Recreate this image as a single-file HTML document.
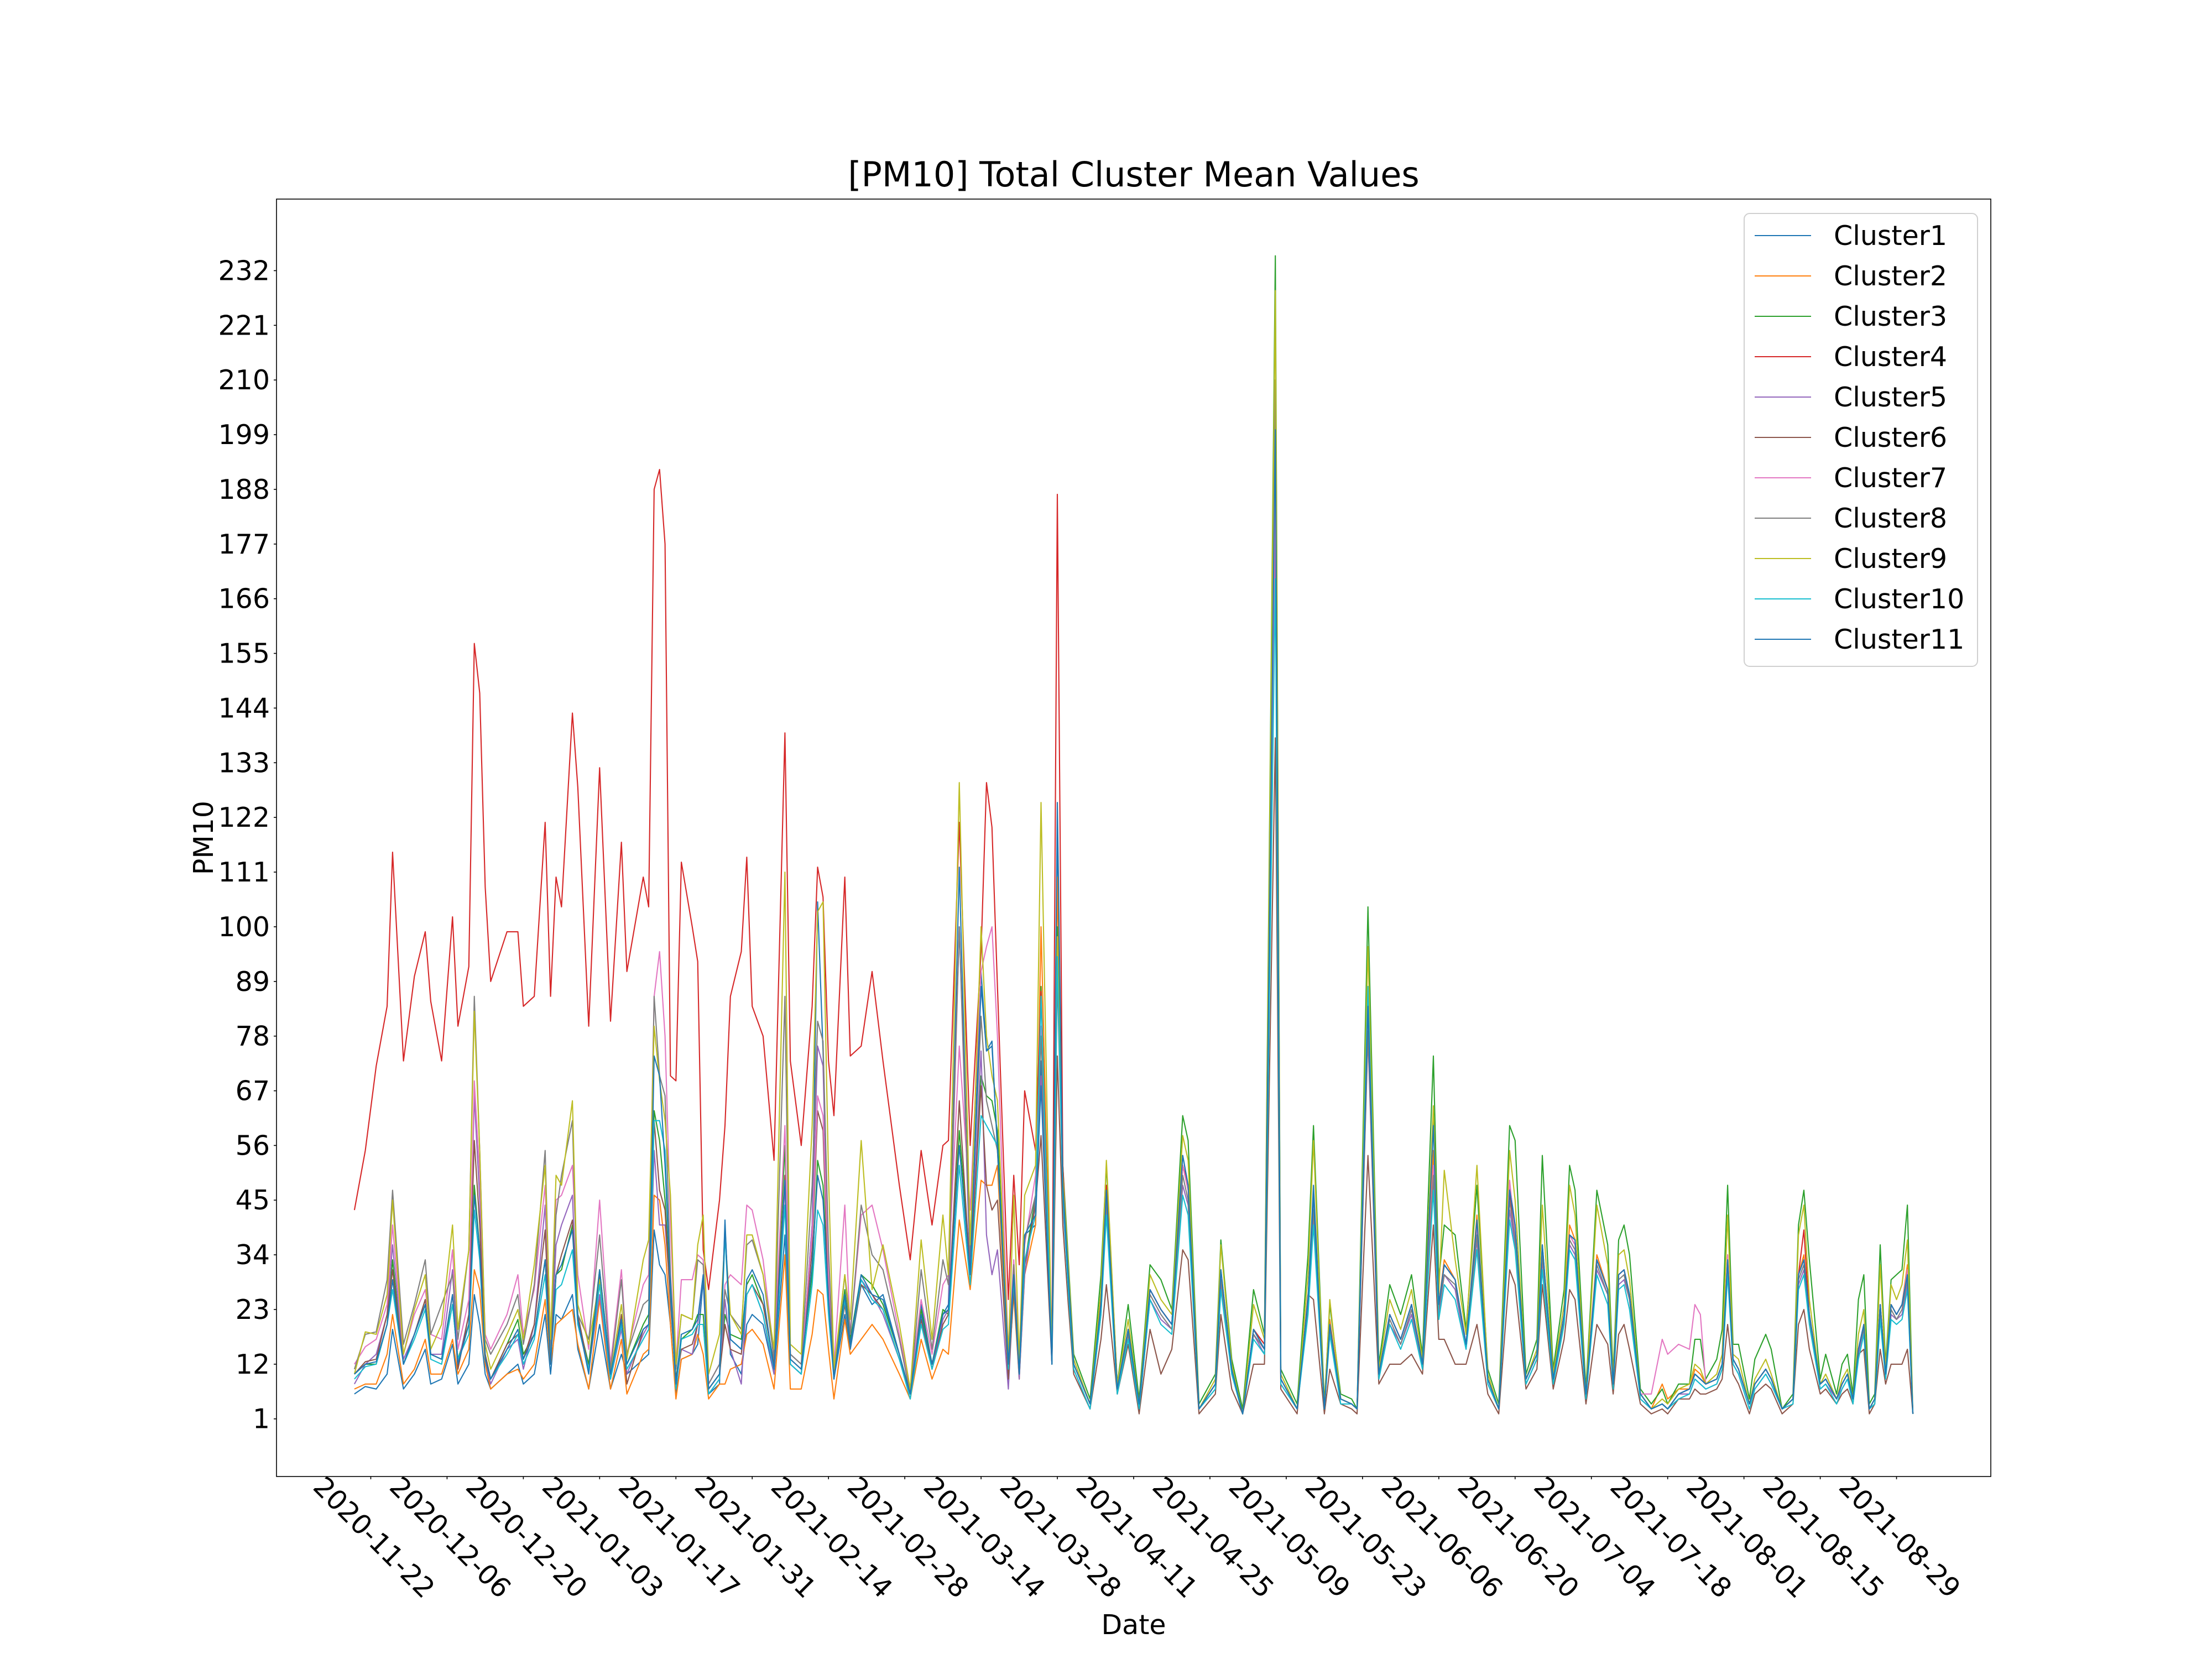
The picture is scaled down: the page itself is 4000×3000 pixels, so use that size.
<!DOCTYPE html>
<html>
<head>
<meta charset="utf-8">
<style>
  html, body { margin: 0; padding: 0; background: #fff; }
  svg { display: block; }
  text { font-family: "DejaVu Sans", "Liberation Sans", sans-serif; fill: #000; }
</style>
</head>
<body>
<svg id="chart" xmlns="http://www.w3.org/2000/svg" width="4000" height="3000" viewBox="0 0 4000 3000">
  <rect x="0" y="0" width="4000" height="3000" fill="#fff"/>
  <text x="2050" y="337" text-anchor="middle" font-size="62">[PM10] Total Cluster Mean Values</text>
  <g id="plot"></g>
  <g id="yaxis"></g>
  <g id="xaxis"></g>
  <rect x="500" y="360" width="3100" height="2310" fill="none" stroke="#000" stroke-width="1.6"/>
  <text x="0" y="0" transform="translate(385,1515) rotate(-90)" text-anchor="middle" font-size="49">PM10</text>
  <text x="2050" y="2955" text-anchor="middle" font-size="49">Date</text>
  <g id="legend">
    <rect x="3154" y="386" width="422" height="819" rx="10" ry="10" fill="#fff" fill-opacity="0.8" stroke="#d0d0d0" stroke-width="2"/>
  </g>
</svg>
<script>
const startDate = "2020-11-19";
const days = [0,2,4,6,7,9,11,13,14,16,18,19,21,22,23,24,25,28,30,31,33,35,36,37,38,40,41,43,45,47,49,50,53,54,55,56,57,58,59,60,62,63,64,65,67,68,69,71,72,73,75,77,79,80,82,84,85,86,87,88,90,91,93,95,97,100,102,104,106,108,109,111,113,115,116,117,118,120,121,122,123,125,126,128,129,130,
131,132,135,137,138,140,142,144,146,148,150,152,153,155,158,159,161,163,165,167,169,170,173,175,176,178,179,181,183,184,186,188,190,192,194,196,198,199,200,202,204,206,208,210,212,213,215,217,218,220,222,223,224,226,228,230,231,232,233,234,236,238,240,241,243,245,246,247,248,250,251,252,253,254,256,257,259,260,262,264,265,266,267,269,270,272,273,274,275,276,277,278,279,280,281,282,283,284,285,286];

const cluster1 = [6,7.5,7,10,19,7,10,15,8,9,16,8,12,26,20,10,7,10,12,8,10,22,10,22,21,26,15,7,20,7,14,10,13,14,39,32,30,20,6,13,14,16,29,6,8,41,14,10,20,22,20,10,38,12,10,40,105,75,30,9,22,15,28,24,26,14,6,24,12,22,24,112,30,91,75,77,55,15,30,12,38,40,73,14,120,48,
30,12,4,24,46,7,19,4,27,23,20,54,48,3,8,31,11,2,19,15,200,9,3,25,48,3,20,5,4,3,85,10,22,17,24,12,62,24,32,29,16,40,9,3,48,40,9,14,36,9,22,38,37,6,33,27,8,30,31,26,6,3,4,3,6,7,10,9,8,9,12,33,13,11,4,8,11,9,3,5,30,33,22,8,9,5,8,10,5,15,20,3,5,24,10,24,22,24,30,2];
const cluster2 = [7,8,8,14,22,8,11,17,10,10,17,10,15,31,27,12,7,10,11,9,12,25,12,20,21,23,16,7,25,7,17,6,14,15,46,45,36,20,5,13,14,18,14,5,8,8,11,12,18,19,16,7,34,7,7,18,27,26,15,5,21,14,17,20,17,10,5,17,9,15,14,41,27,49,48,48,52,10,26,9,30,40,100,12,110,45,
31,12,4,25,48,7,19,4,27,23,20,52,47,3,8,30,11,2,19,16,195,9,3,25,44,3,21,5,4,3,82,10,22,17,24,12,55,24,33,29,16,42,9,3,46,39,9,14,35,9,22,40,37,6,34,27,8,30,31,26,6,3,8,5,7,7,11,10,8,9,12,34,13,11,4,8,11,9,3,5,30,34,22,8,9,5,8,10,5,15,20,3,5,24,10,24,22,24,32,2];
const cluster3 = [10,12,12,20,33,12,18,24,14,13,24,13,20,48,35,14,9,16,21,14,18,33,13,30,31,40,21,12,31,10,21,12,20,22,63,57,45,26,9,17,19,22,22,7,10,22,18,17,28,30,24,12,56,14,12,30,53,48,25,10,27,17,30,28,24,14,6,23,12,23,22,59,32,70,66,65,59,12,32,11,32,46,88,13,100,52,
33,14,5,30,52,8,24,5,32,29,23,62,57,4,10,37,13,3,27,18,235,11,4,34,60,4,24,6,5,3,104,12,28,22,30,14,74,29,40,38,19,48,11,4,60,57,10,17,54,11,27,52,47,7,47,36,10,37,40,34,7,4,7,4,8,8,17,17,9,13,19,48,16,16,5,13,18,15,3,6,40,47,33,9,14,6,12,14,6,25,30,4,6,36,12,29,30,31,44,2];
const cluster4 = [43,55,72,84,115,73,90,99,85,73,102,80,92,157,147,108,89,99,99,84,86,121,86,110,104,143,128,80,132,81,117,91,110,104,188,192,177,70,69,113,100,93,35,27,45,60,86,95,114,84,78,53,139,73,56,84,112,106,73,62,110,74,76,91,73,48,33,55,40,56,57,121,56,95,129,120,88,25,50,32,67,55,87,14,187,52,
30,12,4,25,48,7,19,4,27,23,20,52,48,3,8,30,11,2,19,16,205,9,3,25,44,3,20,5,4,3,84,10,22,17,24,12,52,24,32,29,16,40,9,3,46,38,9,14,35,9,22,38,36,6,33,27,8,30,31,26,6,3,4,3,6,7,10,9,8,9,12,33,13,11,4,8,11,9,3,5,30,39,22,8,9,5,8,10,5,15,20,3,5,24,10,24,22,24,30,2];
const cluster5 = [8,12,14,22,36,13,18,25,14,14,31,12,22,66,45,13,8,15,17,11,20,44,13,36,40,46,20,11,26,9,19,10,18,20,55,40,40,26,8,15,14,20,30,6,9,25,15,8,26,28,22,10,48,12,10,40,76,72,30,9,25,16,29,26,22,13,6,22,11,21,23,100,30,75,38,30,35,7,28,9,30,45,70,12,98,44,
28,11,3,22,44,6,18,3,25,21,19,48,44,3,7,28,10,2,18,14,180,8,3,23,42,3,19,5,4,3,78,9,20,16,22,11,48,22,30,27,15,37,8,3,43,36,8,13,33,8,21,36,34,5,31,26,7,28,29,25,5,3,4,3,6,6,9,8,7,8,11,31,12,10,3,7,10,8,3,5,28,31,21,7,8,5,7,9,5,14,19,3,5,22,9,22,21,22,28,2];
const cluster6 = [10,12.5,13,22,31,12,18,25,14,13,26,11,22,57,40,14,9,16,18,13,20,39,14,30,34,41,22,11,30,9,22,8,19,20,61,47,43,24,9,15,16,20,20,7,10,20,15,14,26,28,24,12,50,13,11,35,63,59,25,10,24,16,28,26,23,13,6,21,11,20,22,65,30,68,48,43,45,9,27,10,32,44,58,12,74,40,
24,10,3,17,28,6,16,2,19,10,15,35,33,2,6,22,7,2,12,12,138,7,2,26,25,2,11,4,3,2,54,8,12,12,14,10,40,17,17,12,12,20,6,2,31,28,7,11,28,7,17,27,25,4,20,16,6,18,20,15,4,2,3,2,5,5,7,6,6,7,9,20,10,8,2,6,8,7,2,4,20,23,15,6,7,4,6,7,4,14,15,2,4,15,8,12,12,12,15,2];
const cluster7 = [12,15.5,17,24,40,14,22,27,18,17,35,15,25,69,50,18,15,22,30,18,27,48,18,45,46,52,30,15,45,12,31,14,28,30,86,95,78,40,12,29,29,34,33,8,12,28,30,28,44,43,33,14,60,14,12,38,66,62,30,12,44,18,42,44,35,18,7,25,14,28,30,76,43,91,96,100,78,14,33,12,36,50,80,13,95,48,
29,12,4,24,46,7,19,4,27,23,20,52,47,3,8,30,11,2,19,15,190,9,3,25,44,3,20,5,4,3,80,10,22,17,24,12,52,24,32,29,16,40,9,3,49,38,9,14,35,9,22,38,36,6,33,27,8,30,31,26,6,6,17,14,16,15,24,22,8,9,12,34,13,11,4,8,11,9,3,5,30,33,22,8,9,5,8,10,5,15,20,3,5,24,10,24,22,24,31,2];
const cluster8 = [11,18,18.5,29,47,16,24,33,18,24,30,17,35,86,55,17,14,20,26,16,28,55,15,42,50,61,22,17,38,11,29,14,24,25,86,70,66,30,11,22,21,33,32,8,12,27,22,19,36,37,30,13,86,14,12,48,81,77,35,10,30,18,44,34,31,17,6,31,15,33,28,100,34,82,65,60,55,12,32,11,37,46,78,13,90,46,
28,12,4,23,45,7,18,4,26,22,19,50,45,3,8,29,11,2,18,15,210,9,3,24,43,3,19,5,4,3,79,10,21,16,23,12,50,23,30,28,16,38,9,3,45,37,9,14,34,9,21,37,35,6,32,26,8,29,30,25,6,3,4,3,6,7,10,9,8,9,12,32,13,11,4,8,11,9,3,5,29,32,21,8,9,5,8,10,5,15,19,3,5,23,10,23,21,23,29,2];
const cluster9 = [10,18.5,18,26,45,14,23,30,15,20,40,19,35,83,55,16,11,18,23,17,32,52,17,50,48,65,24,16,29,10,24,13,33,37,80,69,61,46,12,22,21,36,42,10,18,38,22,18,38,38,30,15,111,16,14,60,103,105,50,11,30,21,57,27,36,20,7,37,17,42,30,129,36,100,78,70,65,14,46,13,46,52,125,13,98,50,
32,13,4,27,53,8,21,4,30,25,22,58,53,3,9,36,12,2,24,17,228,10,3,30,57,3,25,5,4,3,96,11,25,19,27,13,64,26,51,33,18,52,10,3,55,45,9,15,44,10,24,48,42,6,44,32,9,34,35,29,6,3,5,4,7,8,12,11,8,10,14,42,14,13,4,9,13,10,3,5,38,44,25,8,10,5,9,11,5,18,23,3,5,32,11,28,25,28,37,2];
const cluster10 = [9,11.5,12,20,27,12,17,23,13,12,24,13,18,43,33,13,9,14,18,12,17,30,13,27,28,35,20,11,28,9,20,11,17,19,61,61,55,27,7,17,18,20,20,6,9,38,17,15,26,28,22,11,44,12,10,28,43,40,22,9,25,16,29,25,23,13,5,20,11,19,20,52,28,62,60,58,56,11,29,10,33,42,86,12,94,46,
27,11,3,22,42,6,17,3,25,20,18,46,42,3,7,27,10,2,17,14,170,8,3,22,40,3,18,4,4,3,88,9,20,15,21,11,47,21,28,25,15,35,8,3,41,35,8,13,31,8,20,35,33,5,30,24,7,27,28,23,5,3,4,3,5,6,9,8,7,8,11,30,12,10,3,7,10,8,3,4,27,30,20,7,8,4,7,9,4,13,18,3,4,21,9,21,20,21,27,2];
const cluster11 = [10,12,12.5,20,29,12,18,24,14,13,26,12,20,46,35,13,9,15,19,13,18,33,12,30,32,39,21,10,31,10,21,12,19,20,74,70,52,28,8,18,19,21,30,7,10,40,17,15,29,31,26,11,49,13,11,32,50,45,25,9,26,16,30,26,25,14,6,22,12,22,23,56,30,88,75,76,56,12,30,10,38,42,68,12,125,48,
30,12,4,24,47,7,19,4,27,23,20,54,48,3,8,31,11,2,19,15,200,9,3,25,46,3,20,5,4,3,84,10,22,17,24,12,60,24,32,29,16,41,9,3,47,40,9,14,36,9,22,38,37,6,33,27,8,30,31,26,6,3,4,3,6,7,10,9,8,9,12,33,13,11,4,8,11,9,3,5,30,33,22,8,9,5,8,10,5,15,20,3,5,24,10,24,22,24,30,2];

const seriesNames = ["Cluster1","Cluster2","Cluster3","Cluster4","Cluster5","Cluster6","Cluster7","Cluster8","Cluster9","Cluster10","Cluster11"];
const yTickLabels = [1,12,23,34,45,56,67,78,89,100,111,122,133,144,155,166,177,188,199,210,221,232];
const xTickLabels = ["2020-11-22","2020-12-06","2020-12-20","2021-01-03","2021-01-17","2021-01-31","2021-02-14","2021-02-28","2021-03-14","2021-03-28","2021-04-11","2021-04-25","2021-05-09","2021-05-23","2021-06-06","2021-06-20","2021-07-04","2021-07-18","2021-08-01","2021-08-15","2021-08-29"];

const allSeries = [cluster1,cluster2,cluster3,cluster4,cluster5,cluster6,cluster7,cluster8,cluster9,cluster10,cluster11];
const colors = ["#1f77b4","#ff7f0e","#2ca02c","#d62728","#9467bd","#8c564b","#e377c2","#7f7f7f","#bcbd22","#17becf","#1f77b4"];

const NS = "http://www.w3.org/2000/svg";
const AX = {left: 500, right: 3600, top: 360, bottom: 2670};
const maxDay = days[days.length - 1];
const xMin = -0.05 * maxDay, xMax = maxDay * 1.05;
const yMin = -10.6, yMax = 246.4;
function xScale(d) { return AX.left + (d - xMin) / (xMax - xMin) * (AX.right - AX.left); }
function yScale(v) { return AX.bottom - (v - yMin) / (yMax - yMin) * (AX.bottom - AX.top); }
function dayOf(str) {
  const a = Date.UTC(+startDate.slice(0,4), +startDate.slice(5,7)-1, +startDate.slice(8,10));
  const b = Date.UTC(+str.slice(0,4), +str.slice(5,7)-1, +str.slice(8,10));
  return Math.round((b - a) / 86400000);
}
function mk(tag, attrs) {
  const el = document.createElementNS(NS, tag);
  for (const k in attrs) el.setAttribute(k, attrs[k]);
  return el;
}

const plot = document.getElementById("plot");
allSeries.forEach(function(vals, i) {
  let d = "";
  for (let j = 0; j < days.length; j++) {
    d += (j ? "L" : "M") + xScale(days[j]).toFixed(1) + "," + yScale(vals[j]).toFixed(1);
  }
  const p = mk("path", {d: d, fill: "none", stroke: colors[i], "stroke-width": 2.1, "stroke-linejoin": "round"});
  
  
  plot.appendChild(p);
});

const yaxis = document.getElementById("yaxis");
yTickLabels.forEach(function(v) {
  const y = yScale(v);
  const t = mk("line", {x1: AX.left - 5, x2: AX.left, y1: y, y2: y, stroke: "#000", "stroke-width": 1.6});
  
  
  yaxis.appendChild(t);
  const lb = mk("text", {x: AX.left - 12, y: y + 17, "text-anchor": "end", "font-size": 49});
  
  
  lb.textContent = String(v);
  yaxis.appendChild(lb);
});

const xaxis = document.getElementById("xaxis");
xTickLabels.forEach(function(s) {
  const x = xScale(dayOf(s));
  const t = mk("line", {x1: x, x2: x, y1: AX.bottom, y2: AX.bottom + 5, stroke: "#000", "stroke-width": 1.6});
  
  
  xaxis.appendChild(t);
  const lb = mk("text", {x: 0, y: 17, "text-anchor": "middle", "font-size": 49, transform: "translate(" + (x + 6).toFixed(1) + ",2780) rotate(45)"});
  
  
  lb.textContent = s;
  xaxis.appendChild(lb);
});

const legend = document.getElementById("legend");
seriesNames.forEach(function(n, i) {
  const y = 426 + 73 * i;
  const g = mk("g", {});
  
  
  const ln = mk("line", {x1: 3173, x2: 3275, y1: y, y2: y, stroke: colors[i], "stroke-width": 2.1});
  
  
  const tx = mk("text", {x: 3316, y: y + 17, "font-size": 49});
  
  
  tx.textContent = n;
  g.appendChild(ln);
  g.appendChild(tx);
  legend.appendChild(g);
});
</script>
</body>
</html>
